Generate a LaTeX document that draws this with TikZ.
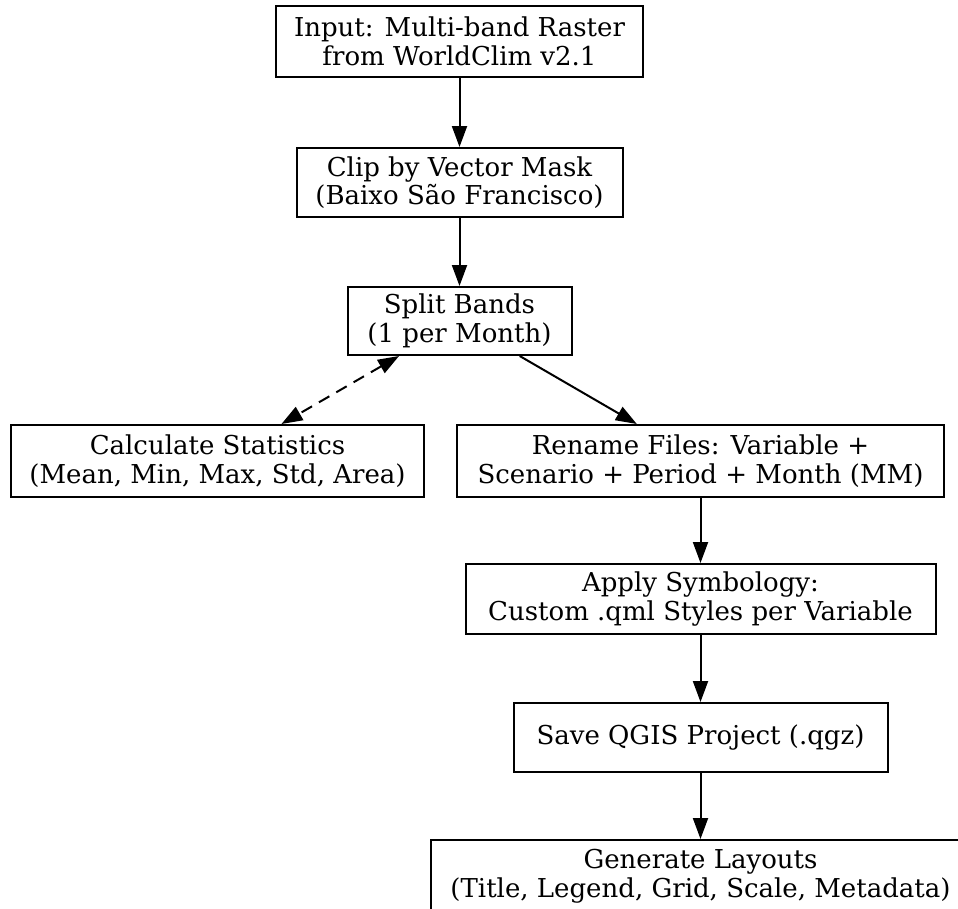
\documentclass[tikz,border=0pt]{standalone}
\usepackage{fontspec}
\setmainfont{DejaVu Serif}
\usetikzlibrary{arrows.meta}
\begin{document}
\begin{tikzpicture}[x=1pt,y=1pt,
  box/.style={draw, line width=2pt, align=center, font=\fontsize{26}{28.5}\selectfont, inner sep=0pt},
  arr/.style={line width=2pt, -{Triangle[length=21pt,width=15pt]}},
  darr/.style={line width=2pt, dash pattern=on 12pt off 8pt, {Triangle[length=21pt,width=15pt]}-{Triangle[length=21pt,width=15pt]}}]
\useasboundingbox (0,0) rectangle (958,-908);
\clip (0,0) rectangle (958,-908);
\node[box, minimum width=367pt, minimum height=71pt] (input) at (459.5,-41.5) {Input: Multi-band Raster\\from WorldClim v2.1};
\node[box, minimum width=326pt, minimum height=69pt] (clip) at (459.5,-182.5) {Clip by Vector Mask\\(Baixo São Francisco)};
\node[box, minimum width=224pt, minimum height=68pt] (split) at (459.5,-321) {Split Bands\\(1 per Month)};
\node[box, minimum width=413pt, minimum height=72pt] (calc) at (217.5,-461) {Calculate Statistics\\(Mean, Min, Max, Std, Area)};
\node[box, minimum width=487pt, minimum height=72pt] (rename) at (700.5,-461) {Rename Files: Variable +\\Scenario + Period + Month (MM)};
\node[box, minimum width=470pt, minimum height=70pt] (apply) at (700.5,-599) {Apply Symbology:\\Custom .qml Styles per Variable};
\node[box, minimum width=374pt, minimum height=69pt] (save) at (700.5,-737.5) {Save QGIS Project (.qgz)};
\node[box, minimum width=540pt, minimum height=72pt] (gen) at (700.5,-876) {Generate Layouts\\(Title, Legend, Grid, Scale, Metadata)};
\draw[arr] (input) -- (clip);
\draw[arr] (clip) -- (split);
\draw[darr] (split) -- (calc);
\draw[arr] (split) -- (rename);
\draw[arr] (rename) -- (apply);
\draw[arr] (apply) -- (save);
\draw[arr] (save) -- (gen);
\end{tikzpicture}
\end{document}
